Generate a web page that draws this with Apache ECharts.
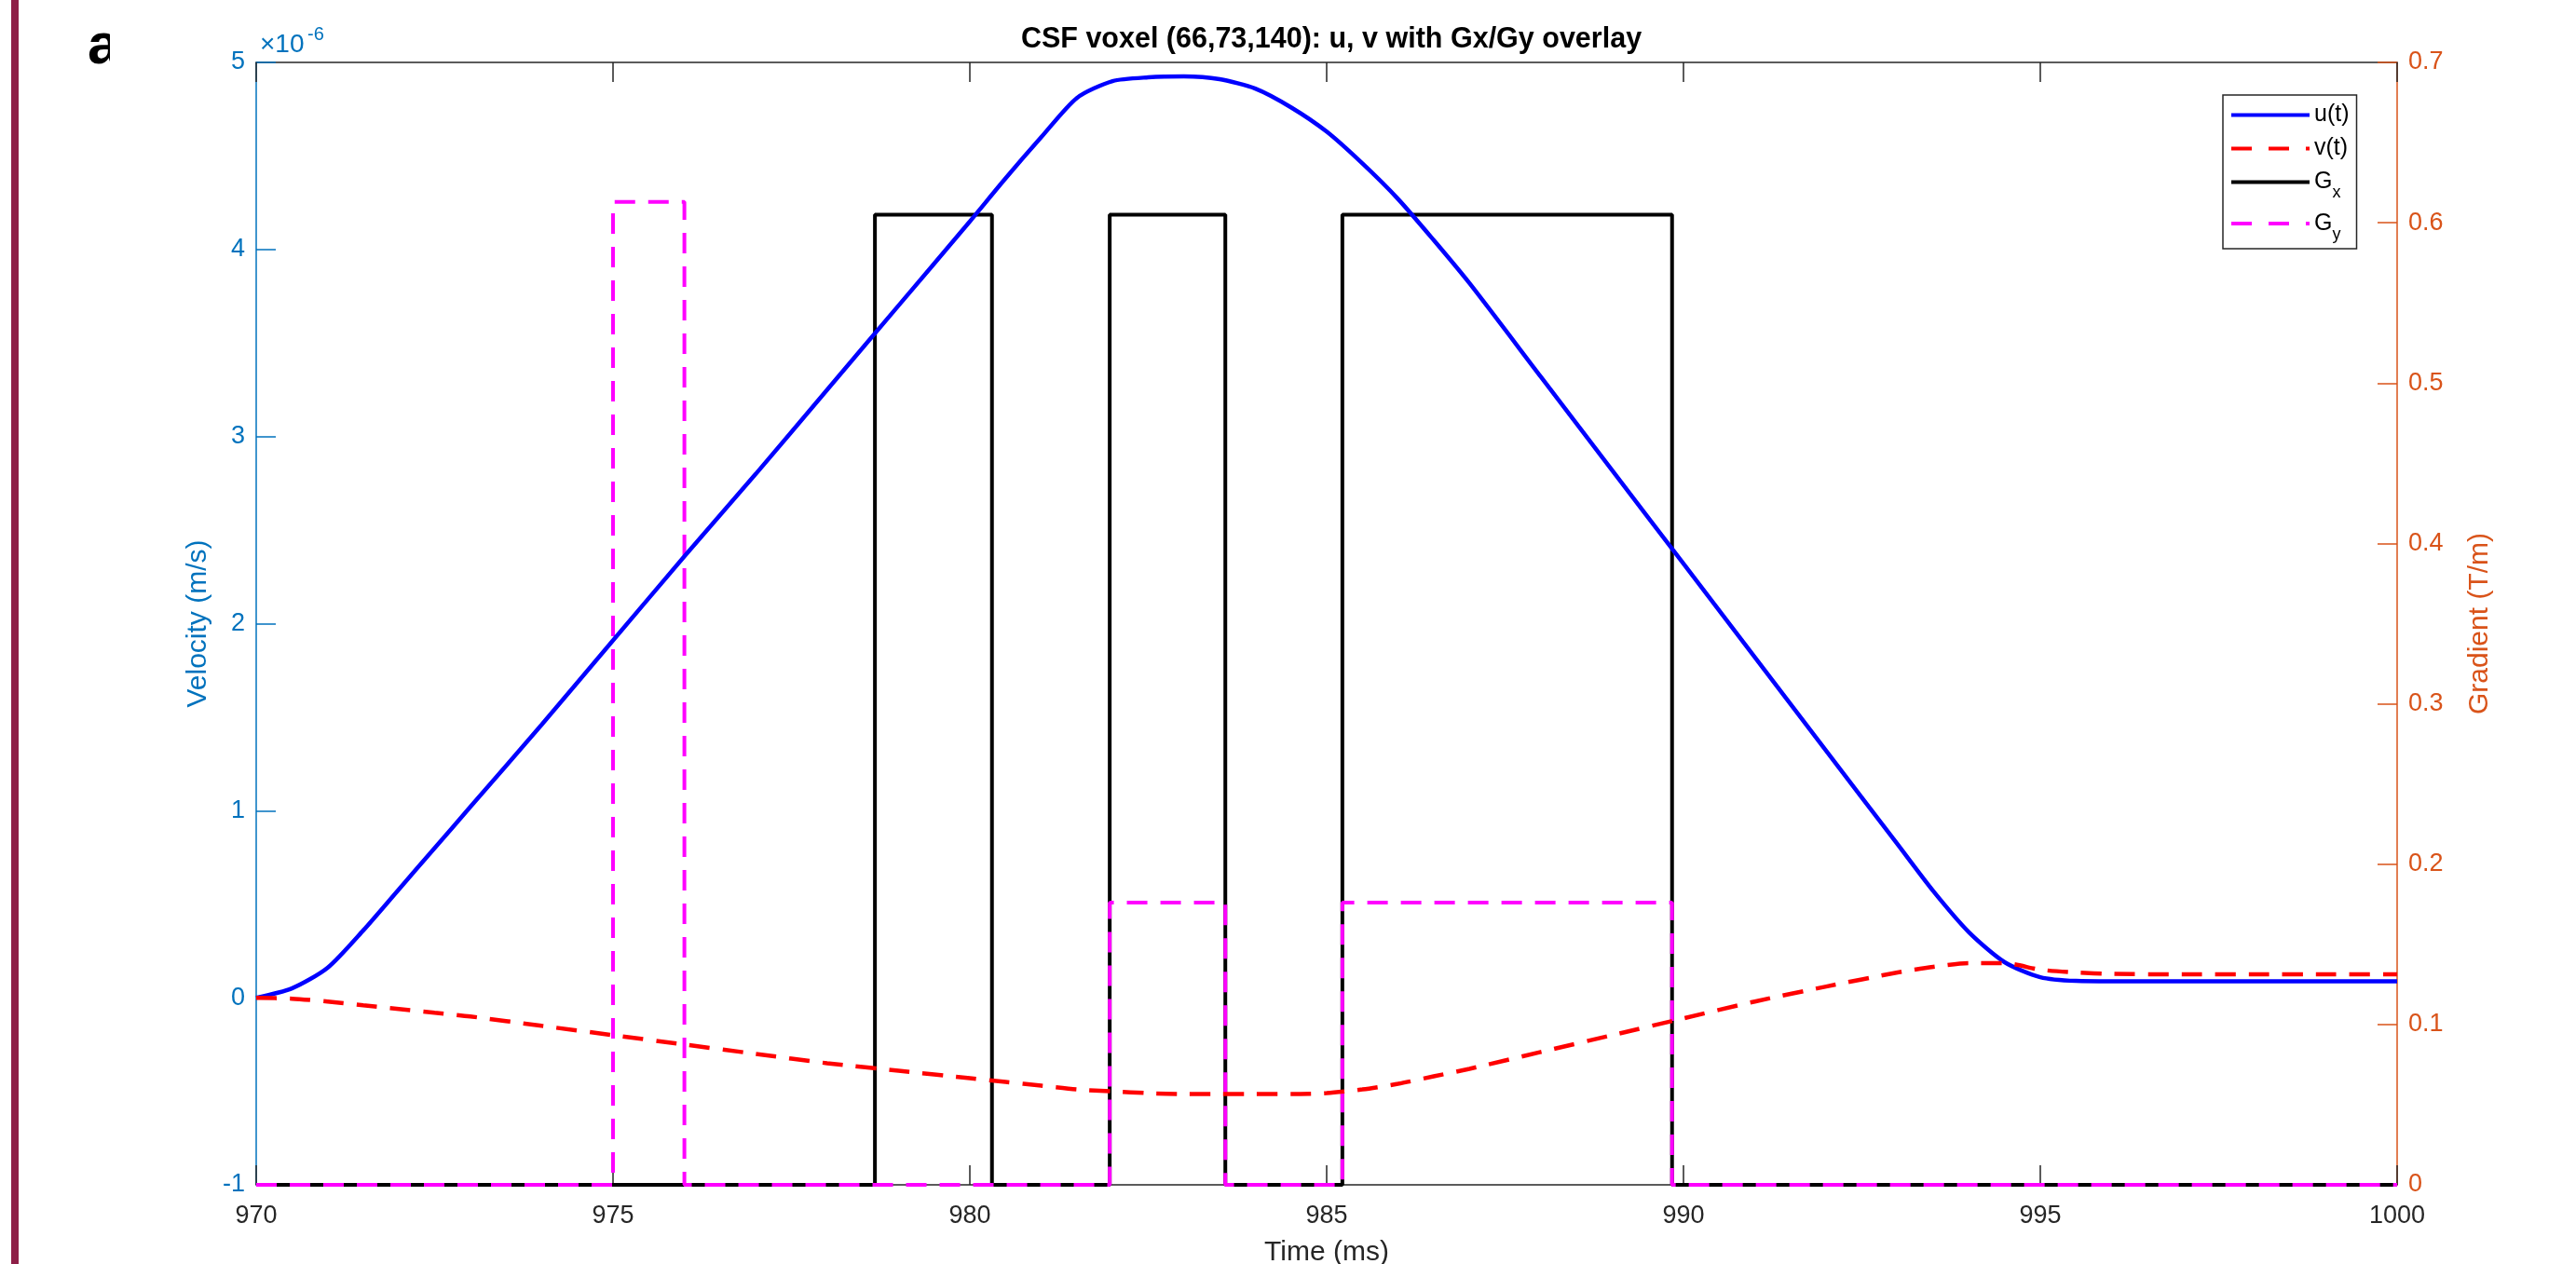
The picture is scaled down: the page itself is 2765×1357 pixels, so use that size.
<!DOCTYPE html>
<html>
<head>
<meta charset="utf-8">
<script src="https://cdn.jsdelivr.net/npm/echarts@6/dist/echarts.min.js"></script>
<style>
html,body{margin:0;padding:0;background:#ffffff;}
#chart{width:2765px;height:1357px;}
</style>
</head>
<body>
<div id="chart"></div>
<script>
// ---- data ----
// time samples (ms)
const timeMs = [970, 970.5, 971, 971.5, 972, 972.5, 973, 974, 975, 976, 977, 978, 979, 980, 980.5, 981, 981.5,
  982, 982.5, 983, 983.5, 984, 984.5, 985, 985.5, 986, 986.5, 987, 988, 989, 990, 991, 992, 993, 993.5,
  994, 994.5, 995, 995.5, 996, 997, 998, 999, 1000];
// u(t) velocity, in units of 1e-6 m/s
const uVel = [0, 0.05, 0.16, 0.36, 0.58, 0.80, 1.02, 1.46, 1.91, 2.36, 2.80, 3.25, 3.70, 4.15, 4.38, 4.60, 4.81,
  4.90, 4.92, 4.925, 4.91, 4.86, 4.76, 4.63, 4.46, 4.27, 4.05, 3.82, 3.32, 2.82, 2.32, 1.82, 1.32, 0.82, 0.57,
  0.35, 0.19, 0.11, 0.09, 0.088, 0.088, 0.088, 0.088, 0.088];
// v(t) velocity, in units of 1e-6 m/s
const vVel = [0, -0.005, -0.02, -0.04, -0.06, -0.08, -0.10, -0.15, -0.20, -0.25, -0.30, -0.35, -0.39, -0.43, -0.45, -0.47, -0.49,
  -0.50, -0.51, -0.515, -0.515, -0.515, -0.515, -0.51, -0.49, -0.46, -0.42, -0.38, -0.29, -0.20, -0.11, -0.02, 0.06, 0.135, 0.165,
  0.185, 0.185, 0.15, 0.135, 0.128, 0.125, 0.125, 0.125, 0.125];
// Gx gradient waveform (T/m)
const gxTime = [970, 978.67, 978.67, 980.31, 980.31, 981.96, 981.96, 983.58, 983.58, 985.22, 985.22, 989.84, 989.84, 1000];
const gxVal  = [0, 0, 0.605, 0.605, 0, 0, 0.605, 0.605, 0, 0, 0.605, 0.605, 0, 0];
// Gy gradient waveform (T/m)
const gyTime = [970, 975, 975, 976, 976, 981.96, 981.96, 983.58, 983.58, 985.22, 985.22, 989.84, 989.84, 1000];
const gyVal  = [0, 0, 0.613, 0.613, 0, 0, 0.176, 0.176, 0, 0, 0.176, 0.176, 0, 0];
// axis ranges / ticks
const xRange = [970, 1000], xStep = 5;
const velRange = [-1, 5], velStep = 1;
const gradRange = [0, 0.7], gradStep = 0.1;
const seriesNames = ['u(t)', 'v(t)', 'Gx', 'Gy'];

// ---- build ----
function pairs(xs, ys) { return xs.map((x, i) => [x, ys[i]]); }
const FONT = 'Liberation Sans, Arial, Helvetica, sans-serif';
const BLUE_AX = '#0072BD', ORANGE_AX = '#D95319', DARK = '#262626';
const DASH = [22, 14], LEGEND_DASH = [22, 18];

const chart = echarts.init(document.getElementById('chart'), null, {renderer: 'canvas'});

const tickCommon = {inside: true, length: 21, lineStyle: {width: 1.5}};

const option = {
  backgroundColor: '#ffffff',
  animation: false,
  textStyle: {fontFamily: FONT},
  title: {
    text: 'CSF voxel (66,73,140): u, v with Gx/Gy overlay',
    left: 1424, top: 22, textAlign: 'center',
    textStyle: {fontFamily: FONT, fontSize: 30.5, fontWeight: 'bold', color: '#000'}
  },
  grid: {left: 275, right: 192, top: 67, bottom: 85, containLabel: false, outerBoundsMode: 'none'},
  legend: {
    data: [
      {name: seriesNames[0]},
      {name: seriesNames[1], lineStyle: {type: LEGEND_DASH}},
      {name: seriesNames[2]},
      {name: seriesNames[3], lineStyle: {type: LEGEND_DASH}}
    ],
    orient: 'vertical',
    left: 2386, top: 102,
    align: 'left',
    itemWidth: 84, itemHeight: 16, itemGap: 11,
    padding: [9, 8, 6, 7],
    borderColor: DARK, borderWidth: 1.5, borderRadius: 0,
    backgroundColor: '#ffffff',
    itemStyle: {opacity: 0},
    lineStyle: {width: 4},
    textStyle: {
      fontFamily: FONT, fontSize: 25, color: '#000',
      rich: {
        m: {fontFamily: FONT, fontSize: 25, color: '#000'},
        s: {fontFamily: FONT, fontSize: 18, color: '#000', padding: [24, 0, 0, 0]}
      }
    },
    formatter: function (name) {
      if (name === 'Gx') return '{m|G}{s|x}';
      if (name === 'Gy') return '{m|G}{s|y}';
      return name;
    }
  },
  xAxis: [{
    type: 'value', min: xRange[0], max: xRange[1], interval: xStep,
    position: 'bottom',
    name: 'Time (ms)', nameLocation: 'middle', nameGap: 58,
    nameTextStyle: {fontFamily: FONT, fontSize: 30, color: DARK},
    axisLine: {show: true, onZero: false, lineStyle: {color: DARK, width: 1.5}},
    axisTick: Object.assign({}, tickCommon, {lineStyle: {color: DARK, width: 1.5}}),
    axisLabel: {fontFamily: FONT, fontSize: 27, color: DARK, margin: 20, formatter: v => String(v)},
    splitLine: {show: false}
  }, {
    type: 'value', min: xRange[0], max: xRange[1], interval: xStep,
    position: 'top',
    axisLine: {show: true, onZero: false, lineStyle: {color: DARK, width: 1.5}},
    axisTick: Object.assign({}, tickCommon, {lineStyle: {color: DARK, width: 1.5}}),
    axisLabel: {show: false},
    splitLine: {show: false}
  }],
  yAxis: [{
    type: 'value', min: velRange[0], max: velRange[1], interval: velStep,
    position: 'left',
    name: 'Velocity (m/s)', nameLocation: 'middle', nameGap: 47,
    nameTextStyle: {fontFamily: FONT, fontSize: 30, color: BLUE_AX},
    axisLine: {show: true, onZero: false, lineStyle: {color: BLUE_AX, width: 1.5}},
    axisTick: Object.assign({}, tickCommon, {lineStyle: {color: BLUE_AX, width: 1.5}}),
    axisLabel: {fontFamily: FONT, fontSize: 27, color: BLUE_AX, margin: 12},
    splitLine: {show: false}
  }, {
    type: 'value', min: gradRange[0], max: gradRange[1], interval: gradStep,
    position: 'right',
    name: 'Gradient (T/m)', nameLocation: 'middle', nameGap: 74,
    nameTextStyle: {fontFamily: FONT, fontSize: 30, color: ORANGE_AX},
    axisLine: {show: true, onZero: false, lineStyle: {color: ORANGE_AX, width: 1.5}},
    axisTick: Object.assign({}, tickCommon, {lineStyle: {color: ORANGE_AX, width: 1.5}}),
    axisLabel: {fontFamily: FONT, fontSize: 27, color: ORANGE_AX, margin: 12,
      formatter: v => (Math.abs(v) < 1e-9 ? '0' : v.toFixed(1))},
    splitLine: {show: false}
  }],
  series: [{
    name: seriesNames[0], type: 'line', xAxisIndex: 0, yAxisIndex: 0,
    data: pairs(timeMs, uVel), showSymbol: false, symbol: 'none', smooth: 0.25,
    lineStyle: {color: '#0000FF', width: 4.5}, itemStyle: {color: '#0000FF'}, z: 3
  }, {
    name: seriesNames[1], type: 'line', xAxisIndex: 0, yAxisIndex: 0,
    data: pairs(timeMs, vVel), showSymbol: false, symbol: 'none', smooth: 0.25,
    lineStyle: {color: '#FF0000', width: 4.5, type: DASH}, itemStyle: {color: '#FF0000'}, z: 3
  }, {
    name: seriesNames[2], type: 'line', xAxisIndex: 0, yAxisIndex: 1,
    data: pairs(gxTime, gxVal), showSymbol: false, symbol: 'none', clip: false,
    lineStyle: {color: '#000000', width: 4}, itemStyle: {color: '#000000'}, z: 2
  }, {
    name: seriesNames[3], type: 'line', xAxisIndex: 0, yAxisIndex: 1,
    data: pairs(gyTime, gyVal), showSymbol: false, symbol: 'none', clip: false,
    lineStyle: {color: '#FF00FF', width: 4, type: DASH}, itemStyle: {color: '#FF00FF'}, z: 2
  }],
  graphic: [
    {type: 'rect', left: 12, top: 0, shape: {width: 8, height: 1357}, style: {fill: '#8E1F47'}, silent: true},
    {type: 'text', left: 94, top: 20, style: {text: 'a', fontFamily: FONT, fontSize: 62, fontWeight: 'bold', fill: '#000'}},
    {type: 'rect', left: 118, top: 10, shape: {width: 40, height: 70}, style: {fill: '#ffffff'}, silent: true},
    {type: 'text', left: 279, top: 34, style: {text: '×10', fontFamily: FONT, fontSize: 28, fill: BLUE_AX}},
    {type: 'text', left: 330, top: 27, style: {text: '-6', fontFamily: FONT, fontSize: 20, fill: BLUE_AX}}
  ]
};
chart.setOption(option);
</script>
</body>
</html>
